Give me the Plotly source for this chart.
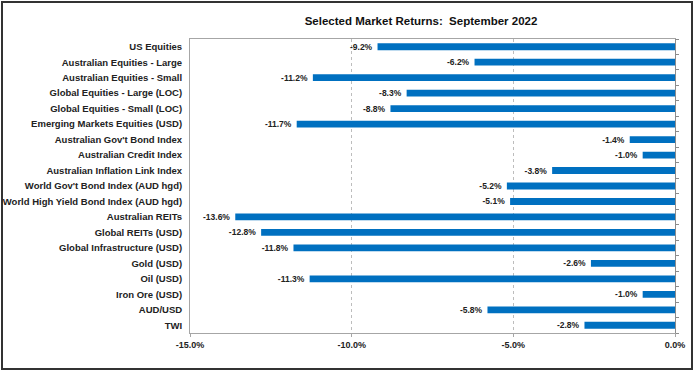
import plotly.graph_objects as go

categories = [
    "US Equities",
    "Australian Equities - Large",
    "Australian Equities - Small",
    "Global Equities - Large (LOC)",
    "Global Equities - Small (LOC)",
    "Emerging Markets Equities (USD)",
    "Australian Gov't Bond Index",
    "Australian Credit Index",
    "Australian Inflation Link Index",
    "World Gov't Bond Index (AUD hgd)",
    "World High Yield Bond Index (AUD hgd)",
    "Australian REITs",
    "Global REITs (USD)",
    "Global Infrastructure (USD)",
    "Gold (USD)",
    "Oil (USD)",
    "Iron Ore (USD)",
    "AUD/USD",
    "TWI",
]
returns_pct = [-9.2, -6.2, -11.2, -8.3, -8.8, -11.7, -1.4, -1.0, -3.8, -5.2,
               -5.1, -13.6, -12.8, -11.8, -2.6, -11.3, -1.0, -5.8, -2.8]
x_ticks = [-15, -10, -5, 0]
x_tick_labels = ["-15.0%", "-10.0%", "-5.0%", "0.0%"]

FONT = "Liberation Sans, Arial, sans-serif"
W, H = 694, 371
L, R, T, B = 190, 19, 39, 38
pw, ph = W - L - R, H - T - B
n = len(categories)

fig = go.Figure()
fig.add_trace(go.Bar(
    x=returns_pct,
    y=list(range(n)),
    orientation="h",
    marker=dict(color="#0070C0", line=dict(width=0)),
    width=0.44,
    texttemplate="<b>%{x:.1f}% </b>",
    textposition="outside",
    constraintext="none",
    cliponaxis=False,
    textfont=dict(family=FONT, size=8.5, color="#222222"),
    hoverinfo="skip",
))
# helper trace so the right-hand (0%) axis with category boundary ticks is drawn
fig.add_trace(go.Scatter(x=[None], y=[None], yaxis="y2", showlegend=False,
                         hoverinfo="skip"))

fig.update_layout(
    width=W, height=H,
    margin=dict(l=L, r=R, t=T, b=B, autoexpand=False),
    paper_bgcolor="white",
    plot_bgcolor="white",
    showlegend=False,
    title=dict(
        text="<b>Selected Market Returns:  September 2022</b>",
        x=(421 - L) / pw, xref="paper", xanchor="center",
        y=1 - 21 / H, yanchor="middle",
        font=dict(family=FONT, size=11.5, color="#111111"),
    ),
    font=dict(family=FONT, size=9.5, color="#222222"),
    xaxis=dict(
        range=[-15, 0],
        tickvals=x_ticks,
        ticktext=["<b>%s</b>" % t for t in x_tick_labels],
        showgrid=True, gridcolor="#BDBDBD", griddash="dot", gridwidth=1,
        zeroline=False, automargin=False,
        showline=True, linecolor="#A6A6A6", linewidth=1, mirror=True,
        ticks="outside", ticklen=3, tickcolor="#A6A6A6",
        tickfont=dict(family=FONT, size=9, color="#222222"),
    ),
    yaxis=dict(
        range=[n - 0.5, -0.5],
        tickvals=list(range(n)),
        ticktext=["<b>%s</b>" % c for c in categories],
        showgrid=False, zeroline=False, automargin=False,
        showline=True, linecolor="#A6A6A6", linewidth=1, mirror=True,
        ticks="", ticklabelstandoff=5,
        tickfont=dict(family=FONT, size=9.5, color="#222222"),
    ),
    yaxis2=dict(
        overlaying="y", side="right", anchor="x",
        range=[n - 0.5, -0.5],
        tickvals=[i - 0.5 for i in range(n + 1)],
        showticklabels=False, showgrid=False, zeroline=False,
        showline=True, linecolor="#8C8C8C", linewidth=1,
        ticks="outside", ticklen=3, tickcolor="#8C8C8C",
        automargin=False,
    ),
    bargap=0.56,
)

# outer chart border
fig.add_shape(
    type="rect", xref="paper", yref="paper",
    x0=(2 - L) / pw, x1=(692 - L) / pw,
    y0=(H - B - 369) / ph, y1=(H - B - 2) / ph,
    line=dict(color="#333333", width=2),
    fillcolor="rgba(0,0,0,0)", layer="below",
)

fig.write_html("out.html", config={"displayModeBar": False},
               post_script="document.body.style.margin='0';")
